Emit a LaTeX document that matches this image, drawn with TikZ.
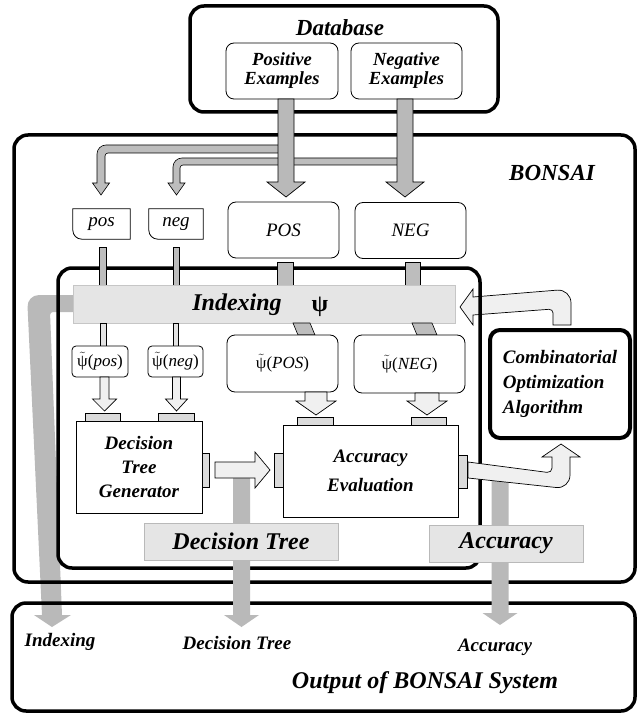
\documentclass[tikz,border=0pt]{standalone}
\usepackage{fontspec}
\setmainfont{Liberation Serif}
\newcommand{\BI}[2]{\fontsize{#1}{#2}\selectfont\bfseries\itshape}
\newcommand{\IT}[2]{\fontsize{#1}{#2}\selectfont\itshape}
\newcommand{\tpsi}{$\tilde{\mbox{ψ}}$}
\newcommand{\fatdown}[7]{%
  \path[#1] ({#2-#5},{#3}) -- ({#2-#5},{#4-#7}) -- ({#2-#6},{#4-#7}) -- ({#2},{#4})
    -- ({#2+#6},{#4-#7}) -- ({#2+#5},{#4-#7}) -- ({#2+#5},{#3}) -- cycle;}
\begin{document}
\begin{tikzpicture}[x=1pt,y=-1pt,
  thickbox/.style={draw, line width=3.5pt, rounded corners=14pt, inner sep=0pt},
  thinbox/.style={draw, line width=0.8pt, rounded corners=8pt, fill=white, inner sep=0pt, align=center},
  smallbox/.style={draw, line width=0.8pt, rounded corners=4pt, fill=white, inner sep=0pt},
  plainbox/.style={draw, line width=0.8pt, fill=white, inner sep=0pt},
  port/.style={draw, line width=0.6pt, fill=gray!28, inner sep=0pt},
  lab/.style={draw=gray!55, line width=0.6pt, fill=gray!20, inner sep=0pt},
  darkband/.style={fill=gray!55},
  midband/.style={fill=gray!52, draw=black, line width=0.6pt},
  midarrow/.style={fill=gray!55, draw=black, line width=0.7pt},
  lightband/.style={fill=gray!22, draw=black, line width=0.5pt},
  lightarrow/.style={fill=gray!12, draw=black, line width=0.7pt},
  txt/.style={inner sep=0pt, align=center},
]
\useasboundingbox (0,0) rectangle (638,714);

% feedback arrow from optimizer to indexing
\path[lightarrow] (473,297) [rounded corners=14pt] -- (571,289) [sharp corners] -- (571,325) -- (553,325)
  [rounded corners=4pt] -- (553,309) [sharp corners] -- (473,315) -- (473,325) -- (460,307) -- (473,289) -- cycle;

% indexing output band
\path[darkband] (73,295) [rounded corners=12pt] -- (27,295) [sharp corners] -- (42,615) -- (34,615)
  -- (52,627) -- (71,615) -- (62,615) [rounded corners=3pt] -- (50,312) [sharp corners] -- (73,312) -- cycle;

% outer frames
\node[thickbox, minimum width=308pt, minimum height=106pt] (db) at (344,59) {};
\node[thickbox, minimum width=621pt, minimum height=447pt] (bonsai) at (324.5,358.5) {};
\node[thickbox, minimum width=623pt, minimum height=108pt] (out) at (323.5,657) {};
\node[thickbox, minimum width=422pt, minimum height=300pt] (inner) at (269,418) {};
\node[thickbox, line width=4pt, rounded corners=10pt, minimum width=140pt, minimum height=108pt,
      font=\BI{19}{25}, align=left] (comb) at (560,384) {Combinatorial\\Optimization\\Algorithm};

% database
\node[txt, font=\BI{23}{26}] (dbt) at (340,28) {Database};
\node[thinbox, minimum width=112pt, minimum height=56pt, font=\BI{18.5}{19}] (posex) at (282,71) {Positive\\Examples};
\node[thinbox, minimum width=111pt, minimum height=56pt, font=\BI{18.5}{19}] (negex) at (406.5,71) {Negative\\Examples};
\node[txt, font=\BI{23}{26}] (bonsait) at (552,173) {BONSAI};

% sample boxes
\node[txt, minimum width=57pt, minimum height=30pt, font=\IT{19}{22}] (pos) at (101.5,224) {pos};
\draw[line width=0.8pt] (pos.north west) -- (pos.north east) -- (pos.south east)
  [rounded corners=9pt] -- (pos.south west) [sharp corners] -- cycle;
\node[txt, minimum width=54pt, minimum height=30pt, font=\IT{19}{22}] (neg) at (176,224) {neg};
\draw[line width=0.8pt] (neg.north west) -- (neg.north east) -- (neg.south east)
  [rounded corners=9pt] -- (neg.south west) [sharp corners] -- cycle;
\node[thinbox, minimum width=111pt, minimum height=56pt, font=\IT{19}{22}] (POS) at (283.5,230) {POS};
\node[thinbox, minimum width=111pt, minimum height=56pt, font=\IT{19}{22}] (NEG) at (410.5,230.5) {NEG};

% branch arrows and main arrows from database
\path[midband] (405,158) [rounded corners=9pt] -- (173,158) [sharp corners] -- (173,183) -- (168,183)
  -- (176.5,195) -- (185,183) -- (180,183) [rounded corners=3pt] -- (180,165) [sharp corners] -- (405,165) -- cycle;
\path[midband] (286,145) [rounded corners=9pt] -- (97,145) [sharp corners] -- (97,183) -- (92.5,183)
  -- (101,195) -- (109.5,183) -- (105,183) [rounded corners=3pt] -- (105,153) [sharp corners] -- (286,153) -- cycle;
\fatdown{midarrow}{286}{99}{197}{8}{19}{15}
\fatdown{midarrow}{405}{99}{197}{8}{19}{15}

% stubs into the indexing bar
\path[midband] (99,247) rectangle (106,285);
\path[midband] (173,247) rectangle (179,285);
\path[midband] (277,262) rectangle (293,285);
\path[midband] (405,262) rectangle (420,285);

% indexing bar
\node[lab, draw=gray!45, minimum width=382pt, minimum height=38pt] (bar) at (264,304) {};
\node[txt, font=\BI{24}{28}] (idx) at (237,305) {Indexing};
\node[txt, font=\bfseries\fontsize{24}{28}\selectfont] (psi) at (320,307) {ψ};

% connectors below the bar
\path[lightband] (100,323) rectangle (106,346);
\path[lightband] (173,323) rectangle (178,346);
\path[midband] (293,323) -- (310,323) -- (315,335) -- (298,335) -- cycle;
\path[midband] (412,323) -- (432,323) -- (437,335) -- (417,335) -- cycle;

% indexed sample boxes
\node[smallbox, minimum width=56pt, minimum height=31pt, font=\fontsize{17}{20}\selectfont] (ppos) at (100,361.5) {\tpsi(\textit{pos})};
\node[smallbox, minimum width=55pt, minimum height=31pt, font=\fontsize{17}{20}\selectfont] (pneg) at (175.5,361.5) {\tpsi(\textit{neg})};
\node[thinbox, minimum width=111pt, minimum height=57pt, font=\fontsize{17}{20}\selectfont] (pPOS) at (282.5,363.5) {\tpsi(\textit{POS})};
\node[thinbox, minimum width=111pt, minimum height=58pt, font=\fontsize{17}{20}\selectfont] (pNEG) at (409.5,364) {\tpsi(\textit{NEG})};

% ports
\node[port, minimum width=35pt, minimum height=8pt] (p1) at (102.5,417) {};
\node[port, minimum width=36pt, minimum height=8pt] (p2) at (176,417) {};
\node[port, minimum width=7pt, minimum height=34pt] (p3) at (205.5,470) {};
\node[port, minimum width=36pt, minimum height=8pt] (p4) at (315,421) {};
\node[port, minimum width=35pt, minimum height=8pt] (p5) at (428.5,421) {};
\node[port, minimum width=9pt, minimum height=34pt] (p6) at (278.5,470) {};
\node[port, minimum width=9pt, minimum height=33pt] (p7) at (462.5,471.5) {};

% arrows into ports
\fatdown{lightarrow}{104.5}{377}{411}{4.5}{12}{12}
\fatdown{lightarrow}{176.5}{377}{411}{4}{11}{12}
\fatdown{lightarrow}{316}{392}{415}{11}{20}{14}
\fatdown{lightarrow}{427}{393}{415}{12}{20}{14}

% processing boxes
\node[plainbox, minimum width=126pt, minimum height=92pt, font=\BI{19}{24}, align=center] (dtg) at (139,467) {Decision\\Tree\\Generator};
\node[plainbox, minimum width=175pt, minimum height=92pt, font=\BI{19}{29}, align=center] (ae) at (370.5,471) {Accuracy\\Evaluation};

% output bands
\fatdown{darkband}{241.5}{478}{627}{8.5}{17.5}{12}
\fatdown{darkband}{500}{478}{625}{8.5}{17.5}{12}

% decision tree into evaluation
\path[lightarrow] (215,462) -- (255,462) -- (255,452) -- (270,470) -- (255,488) -- (255,478) -- (215,478) -- cycle;
% accuracy into optimizer
\path[lightarrow] (468,462) [rounded corners=5pt] -- (552,473) [sharp corners] -- (552,457) -- (542,457)
  -- (561,444) -- (580,457) -- (570,457) [rounded corners=14pt] -- (570,489) [sharp corners] -- (468,478) -- cycle;

% labels
\node[lab, minimum width=194pt, minimum height=37pt, font=\BI{24}{28}] (dtl) at (241,541.5) {Decision Tree};
\node[lab, minimum width=154pt, minimum height=37pt, font=\BI{24}{28}] (accl) at (506,543.5) {Accuracy};

% outputs
\node[txt, font=\BI{19}{22}] (o1) at (60,642) {Indexing};
\node[txt, font=\BI{19}{22}] (o2) at (237,643) {Decision Tree};
\node[txt, font=\BI{19}{22}] (o3) at (495,647) {Accuracy};
\node[txt, font=\BI{24}{28}] (o4) at (425,683) {Output of BONSAI System};
\end{tikzpicture}
\end{document}
